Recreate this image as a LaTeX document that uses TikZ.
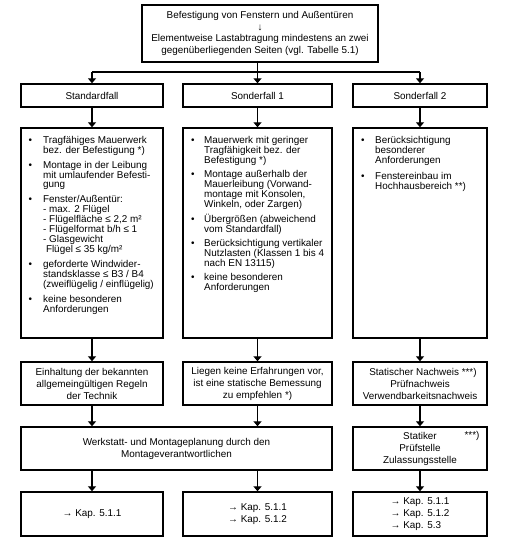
\documentclass[tikz,border=0pt]{standalone}
\usepackage{fontspec}
\setmainfont{Liberation Sans}
\usetikzlibrary{arrows.meta}
\begin{document}
\begin{tikzpicture}[x=1pt,y=-1pt,
  box/.style={draw,line width=1.4pt,inner sep=0pt,align=center,font=\fontsize{9.9}{12}\selectfont},
  arr/.style={line width=1.4pt,-{Triangle[width=8pt,length=5pt]}},
  ln/.style={line width=1.4pt},
  btxt/.style={anchor=base west,inner sep=0pt}]
\useasboundingbox[fill=white] (0,0) rectangle (508,546);
% row 1
\node[box,minimum width=236pt,minimum height=57pt,font=\fontsize{9.9}{11.7}\selectfont] (top) at (260,33.5)
  {Befestigung von Fenstern und Außentüren\\↓\\Elementweise Lastabtragung mindestens an zwei\\gegenüberliegenden Seiten (vgl. Tabelle 5.1)};
% row 2
\node[box,minimum width=142pt,minimum height=23pt] (r2L) at (92,95.5) {Standardfall};
\node[box,minimum width=149pt,minimum height=23pt] (r2M) at (257.5,95.5) {Sonderfall 1};
\node[box,minimum width=134pt,minimum height=23pt] (r2R) at (420,95.5) {Sonderfall 2};
% row 3
\node[box,minimum width=142pt,minimum height=210pt] (bL) at (92,233) {};
\node[box,minimum width=149pt,minimum height=210pt] (bM) at (257.5,233) {};
\node[box,minimum width=134pt,minimum height=210pt] (bR) at (420,233) {};
\node[btxt] (tL) at (28.3,143.3) {\fontsize{9.9}{9.7}\selectfont
\begin{tabular}[t]{@{}p{14.7pt}@{}l@{}}
\textbullet & Tragfähiges Mauerwerk\\
 & bez. der Befestigung *)\\[4.6pt]
\textbullet & Montage in der Leibung\\
 & mit umlaufender Befesti-\\
 & gung\\[4.6pt]
\textbullet & Fenster/Außentür:\\
 & - max. 2 Flügel\\
 & - Flügelfläche ≤ 2,2 m²\\
 & - Flügelformat b/h ≤ 1\\
 & - Glasgewicht\\
 & \hspace{2.8pt}Flügel ≤ 35 kg/m²\\[4.6pt]
\textbullet & geforderte Windwider-\\
 & standsklasse ≤ B3 / B4\\
 & (zweiflügelig / einflügelig)\\[4.6pt]
\textbullet & keine besonderen\\
 & Anforderungen
\end{tabular}};
\node[btxt] (tM) at (191,143.3) {\fontsize{9.9}{10}\selectfont
\begin{tabular}[t]{@{}p{13pt}@{}l@{}}
\textbullet & Mauerwerk mit geringer\\
 & Tragfähigkeit bez. der\\
 & Befestigung *)\\[3.5pt]
\textbullet & Montage außerhalb der\\
 & Mauerleibung (Vorwand-\\
 & montage mit Konsolen,\\
 & Winkeln, oder Zargen)\\[3.5pt]
\textbullet & Übergrößen (abweichend\\
 & vom Standardfall)\\[3.5pt]
\textbullet & Berücksichtigung vertikaler\\
 & Nutzlasten (Klassen 1 bis 4\\
 & nach EN 13115)\\[3.5pt]
\textbullet & keine besonderen\\
 & Anforderungen
\end{tabular}};
\node[btxt] (tR) at (361,143.3) {\fontsize{9.9}{10}\selectfont
\begin{tabular}[t]{@{}p{14pt}@{}l@{}}
\textbullet & Berücksichtigung\\
 & besonderer\\
 & Anforderungen\\[5.4pt]
\textbullet & Fenstereinbau im\\
 & Hochhausbereich **)
\end{tabular}};
% row 4
\node[box,minimum width=142pt,minimum height=43pt] (r4L) at (92,383.5)
  {Einhaltung der bekannten\\allgemeingültigen Regeln\\der Technik};
\node[box,minimum width=149pt,minimum height=43pt] (r4M) at (257.5,383.5)
  {Liegen keine Erfahrungen vor,\\ist eine statische Bemessung\\zu empfehlen *)};
\node[box,minimum width=134pt,minimum height=43pt] (r4R) at (420,383.5)
  {\hspace{6pt}Statischer Nachweis ***)\\Prüfnachweis\\Verwendbarkeitsnachweis};
% row 5
\node[box,minimum width=311pt,minimum height=43pt] (r5W) at (176.5,448.5)
  {Werkstatt- und Montageplanung durch den\\Montageverantwortlichen};
\node[box,minimum width=134pt,minimum height=43pt] (r5S) at (420,448.5)
  {Statiker\\Prüfstelle\\Zulassungsstelle};
\node[inner sep=0pt,font=\fontsize{9.9}{12}\selectfont] (r5Sstar) at (472,436) {***)};
% row 6
\node[box,minimum width=142pt,minimum height=44pt] (r6L) at (92,514) {→ Kap. 5.1.1};
\node[box,minimum width=149pt,minimum height=44pt,align=left] (r6M) at (257.5,514) {→ Kap. 5.1.1\\→ Kap. 5.1.2};
\node[box,minimum width=134pt,minimum height=44pt,align=left] (r6R) at (420,514) {→ Kap. 5.1.1\\→ Kap. 5.1.2\\→ Kap. 5.3};
% connectors
\coordinate (br) at (0,72);
\draw[ln] (r2L.north |- br) -- (r2R.north |- br);
\draw[arr] (top.south -| r2M.north) -- (r2M.north);
\draw[arr] (r2L.north |- br) -- (r2L.north);
\draw[arr] (r2R.north |- br) -- (r2R.north);
\draw[arr] (r2L.south) -- (bL.north);
\draw[arr] (r2M.south) -- (bM.north);
\draw[arr] (r2R.south) -- (bR.north);
\draw[arr] (bL.south) -- (r4L.north);
\draw[arr] (bM.south) -- (r4M.north);
\draw[arr] (bR.south) -- (r4R.north);
\draw[arr] (r4L.south) -- (r4L.south |- r5W.north);
\draw[arr] (r4M.south) -- (r4M.south |- r5W.north);
\draw[arr] (r4R.south) -- (r5S.north);
\draw[arr] (r6L.north |- r5W.south) -- (r6L.north);
\draw[arr] (r6M.north |- r5W.south) -- (r6M.north);
\draw[arr] (r5S.south) -- (r6R.north);
\end{tikzpicture}
\end{document}
